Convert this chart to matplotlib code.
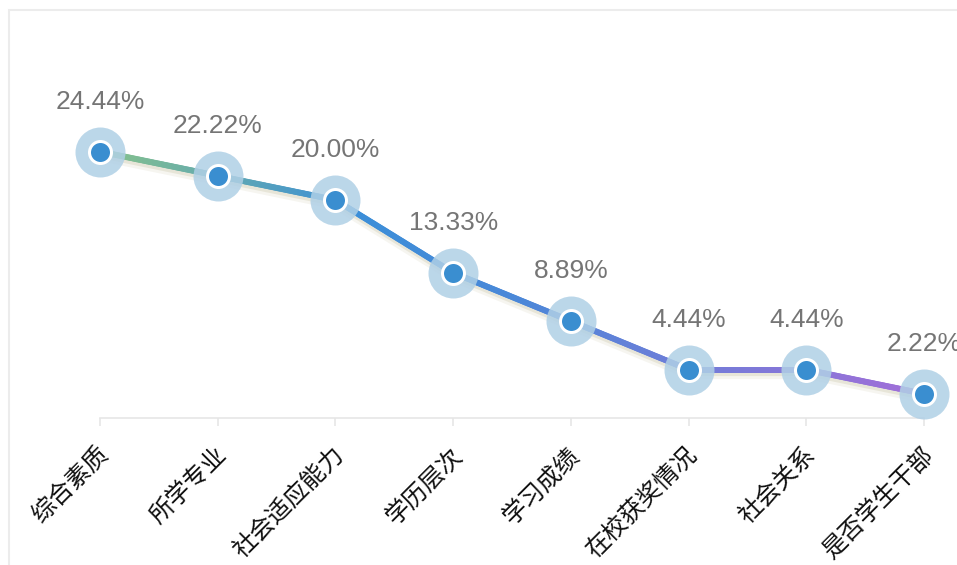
import numpy as np
import matplotlib
matplotlib.use("Agg")
import matplotlib.pyplot as plt
from matplotlib.collections import LineCollection
from matplotlib.colors import LinearSegmentedColormap
from matplotlib.transforms import ScaledTranslation, offset_copy
from matplotlib.patches import Rectangle

plt.rcParams['font.family'] = ['Liberation Sans', 'Noto Sans CJK SC', 'DejaVu Sans']

categories = ['综合素质', '所学专业', '社会适应能力', '学历层次', '学习成绩', '在校获奖情况', '社会关系', '是否学生干部']
values = [24.44, 22.22, 20.00, 13.33, 8.89, 4.44, 4.44, 2.22]
value_labels = ['24.44%', '22.22%', '20.00%', '13.33%', '8.89%', '4.44%', '4.44%', '2.22%']

W, H = 957, 565
fig = plt.figure(figsize=(W / 100, H / 100), dpi=100)

# axes placement in pixels
left_px, right_px, bottom_px, top_px = 100, 924, 418, 91
ax = fig.add_axes([left_px / W, (H - bottom_px) / H,
                   (right_px - left_px) / W, (bottom_px - top_px) / H])
ax.set_xlim(0, len(categories) - 1)
ax.set_ylim(0, 30)
ax.patch.set_alpha(0)
for s in ['top', 'right', 'left']:
    ax.spines[s].set_visible(False)
ax.spines['bottom'].set_color('#e6e6e6')
ax.spines['bottom'].set_linewidth(1.2)
ax.set_yticks([])

x = np.arange(len(categories))
y = np.array(values)

# gradient line
cmap = LinearSegmentedColormap.from_list(
    'g', [(0.0, '#88c38a'), (0.3, '#3b8fd8'), (0.5, '#4a88d8'), (1.0, '#a26ed8')])
xs, ys = [], []
for i in range(len(x) - 1):
    t = np.linspace(0, 1, 60, endpoint=(i == len(x) - 2))
    xs.append(x[i] + (x[i + 1] - x[i]) * t)
    ys.append(y[i] + (y[i + 1] - y[i]) * t)
xs = np.concatenate(xs)
ys = np.concatenate(ys)
pts = np.column_stack([xs, ys]).reshape(-1, 1, 2)
segs = np.concatenate([pts[:-1], pts[1:]], axis=1)

# shadow
for lw, a, dy in [(10, 0.10, -4.5), (6, 0.18, -3.5)]:
    sh_tr = offset_copy(ax.transData, fig=fig, x=0.5, y=dy, units='dots')
    ax.plot(x, y, color='#a8a070', lw=lw * 0.72, alpha=a, transform=sh_tr,
            solid_capstyle='round', zorder=1, clip_on=False)

lc = LineCollection(segs, cmap=cmap, linewidths=6 * 0.72, capstyle='round', zorder=2)
lc.set_array(xs[:-1] / xs.max())
lc.set_clim(0, 1)
lc.set_clip_on(False)
ax.add_collection(lc)

# halo
ax.scatter(x, y, s=(50 * 0.72) ** 2, color='#b0d0e6', alpha=0.85, zorder=3,
           linewidths=0, clip_on=False)
# marker
ax.plot(x, y, linestyle='none', marker='o', markersize=22 * 0.72,
        markerfacecolor='#3a8ed0', markeredgecolor='white', markeredgewidth=3 * 0.72,
        zorder=4, clip_on=False)

# value labels
for xi, yi, lab in zip(x, y, value_labels):
    ax.annotate(lab, (xi, yi), xytext=(0, 31), textcoords='offset points',
                ha='center', va='baseline', fontsize=19, color='#757575',
                family=['Liberation Sans'], annotation_clip=False, zorder=5)

# x ticks
ax.set_xticks(x)
ax.set_xticklabels(categories, rotation=45, ha='right', va='center',
                   rotation_mode='anchor', fontsize=17.5, color='#111111',
                   family=['Noto Sans CJK SC'])
ax.tick_params(axis='x', direction='out', length=6, width=1.2, color='#e6e6e6', pad=18)
off = ScaledTranslation(5 / 100, 0, fig.dpi_scale_trans)
for lbl in ax.get_xticklabels():
    lbl.set_transform(lbl.get_transform() + off)

# figure border
fig.patches.append(Rectangle((9 / W, -0.1), 1.2, 1.1 - 10 / H, transform=fig.transFigure,
                             fill=False, edgecolor='#ececec', lw=1.5, zorder=0))

fig.savefig('out.png', dpi=100)
